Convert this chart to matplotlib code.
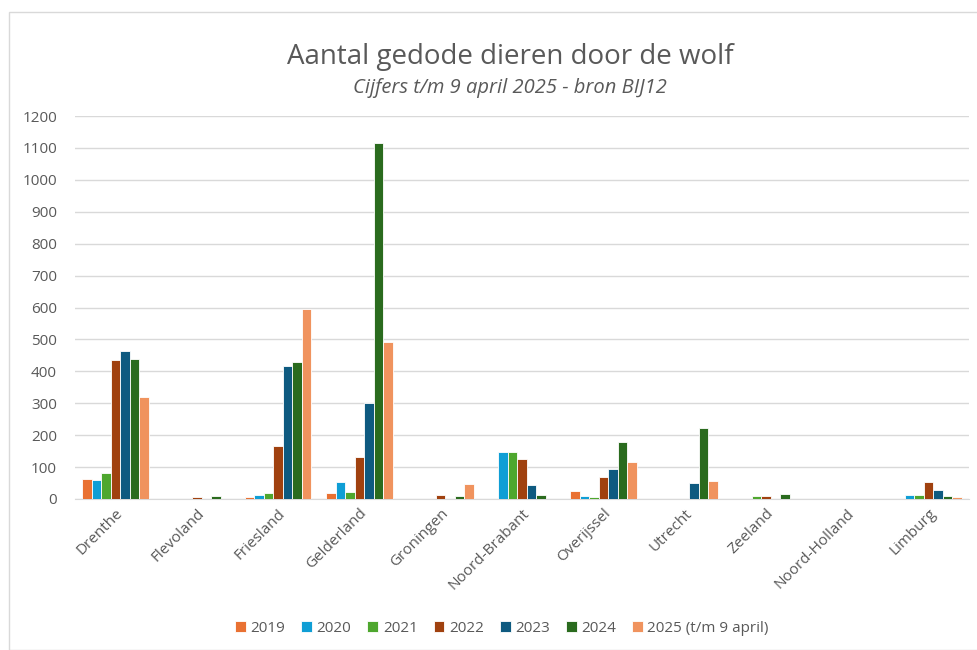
import matplotlib
matplotlib.use("Agg")
import matplotlib.pyplot as plt
import numpy as np
from matplotlib.patches import Rectangle

provinces = ["Drenthe", "Flevoland", "Friesland", "Gelderland", "Groningen",
             "Noord-Brabant", "Overijssel", "Utrecht", "Zeeland", "Noord-Holland", "Limburg"]
years = ["2019", "2020", "2021", "2022", "2023", "2024", "2025 (t/m 9 april)"]

v2019 = [63, 0, 6, 18, 0, 0, 25, 0, 0, 0, 0]
v2020 = [58, 0, 11, 54, 0, 146, 8, 0, 0, 0, 12]
v2021 = [80, 0, 18, 21, 0, 147, 6, 0, 8, 0, 13]
v2022 = [434, 7, 167, 133, 12, 124, 69, 0, 9, 0, 53]
v2023 = [465, 0, 417, 300, 0, 45, 93, 51, 0, 0, 28]
v2024 = [438, 10, 430, 1115, 9, 13, 179, 221, 17, 0, 8]
v2025 = [319, 0, 596, 491, 46, 0, 116, 57, 0, 0, 6]
series = [v2019, v2020, v2021, v2022, v2023, v2024, v2025]

colors = ["#E97132", "#0F9ED5", "#4EA72E", "#A0410F", "#0E5A80", "#2A6B1E", "#F0935E"]

plt.rcParams['font.family'] = ['Open Sans', 'DejaVu Sans']

fig = plt.figure(figsize=(9.78, 6.5), dpi=100)
ax = fig.add_axes([75/978, 1-499/650, 894/978, 383/650])

x = np.arange(len(provinces))
n = len(series)
bw = 0.117
for i, (vals, c) in enumerate(zip(series, colors)):
    offs = (i - (n - 1) / 2) * bw
    ax.bar(x + offs, vals, width=bw, color=c, edgecolor="white", linewidth=0.6,
           label=years[i], zorder=3)

ax.set_xlim(-0.5, len(provinces) - 0.5)
ax.set_ylim(0, 1200)
ax.set_yticks(np.arange(0, 1201, 100))
ax.yaxis.grid(True, color="#D9D9D9", linewidth=1, zorder=0)
ax.set_axisbelow(True)
for s in ["top", "right", "left"]:
    ax.spines[s].set_visible(False)
ax.spines["bottom"].set_color("#D9D9D9")
ax.tick_params(axis="y", length=0, labelsize=11, labelcolor="#595959", pad=13)
ax.tick_params(axis="x", length=0, labelsize=11, labelcolor="#595959", pad=5)
ax.set_xticks(x)
ax.set_xticklabels(provinces, rotation=45, ha="right", rotation_mode="anchor")

fig.text(510/978, 1-57/650, "Aantal gedode dieren door de wolf", ha="center", va="center",
         fontsize=20, color="#595959")
fig.text(510/978, 1-88/650, "Cijfers t/m 9 april 2025 - bron BIJ12", ha="center", va="center",
         fontsize=14.5, color="#595959", style="italic")

leg = fig.legend(loc="center", bbox_to_anchor=(502/978, 1-628/650), ncol=7, frameon=False,
                 fontsize=11, handlelength=0.7, handleheight=0.7, handletextpad=0.3,
                 columnspacing=1.05)
for t in leg.get_texts():
    t.set_color("#595959")

fig.patches.append(Rectangle((9/978, 0), 1, 1 - 12/650, transform=fig.transFigure,
                             fill=False, edgecolor="#D9D9D9", linewidth=1))

fig.savefig("out.png", dpi=100, facecolor="white")
